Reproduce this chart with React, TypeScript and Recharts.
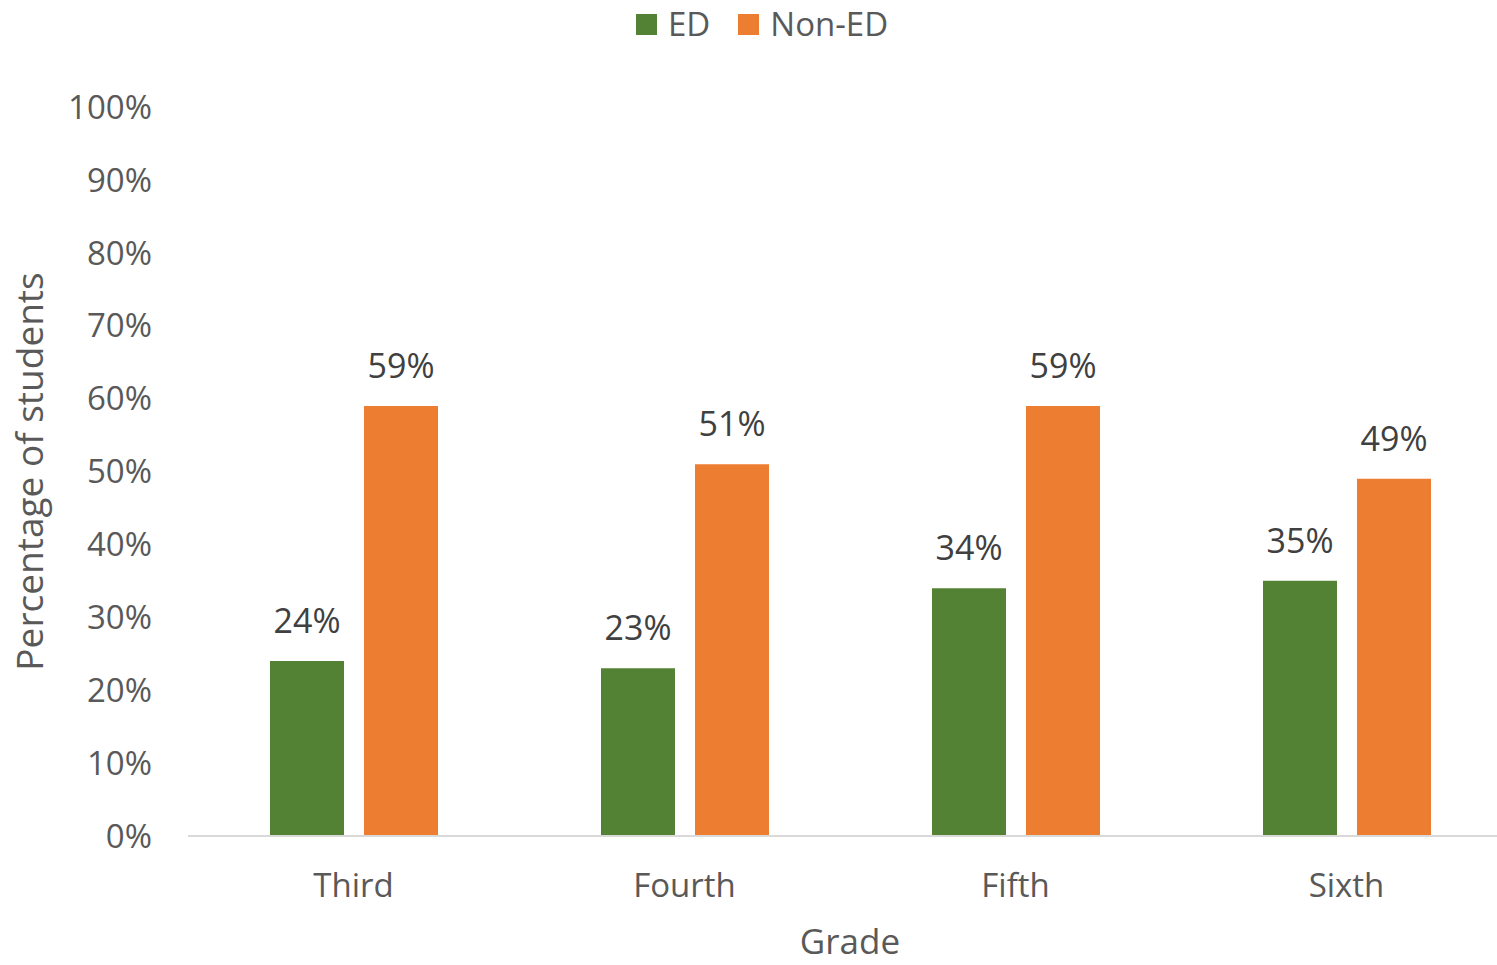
import { BarChart, Bar, XAxis, YAxis, LabelList } from 'recharts'

const grades = ['Third', 'Fourth', 'Fifth', 'Sixth']
const edValues = [24, 23, 34, 35]
const nonEdValues = [59, 51, 59, 49]
const yTicks = [0, 10, 20, 30, 40, 50, 60, 70, 80, 90, 100]

const FONT = '"Open Sans", "Noto Sans", sans-serif'
const GREEN = '#548235'
const ORANGE = '#ED7D31'
const TEXT = '#595959'

const data = grades.map((grade, i) => ({
  grade,
  ed: edValues[i],
  nonEd: nonEdValues[i],
}))

const legendItems = [
  { name: 'ED', color: GREEN },
  { name: 'Non-ED', color: ORANGE },
]

// legend drawn in html so it doesn't eat into the plot area
function ChartLegend() {
  return (
    <div
      style={{
        position: 'absolute',
        top: 0,
        left: 636,
        height: 48,
        display: 'flex',
        alignItems: 'center',
        gap: 28,
        fontFamily: FONT,
        fontSize: 33,
        color: TEXT,
        lineHeight: '48px',
      }}
    >
      {legendItems.map((item) => (
        <div key={item.name} style={{ display: 'flex', alignItems: 'center', gap: 11 }}>
          <div style={{ width: 21, height: 21, backgroundColor: item.color }} />
          <span>{item.name}</span>
        </div>
      ))}
    </div>
  )
}

export default function App() {
  return (
    <div style={{ position: 'absolute', left: 0, top: 0, width: 1497, height: 965, overflow: 'hidden', background: '#fff' }}>
      <BarChart
        width={1512}
        height={965}
        data={data}
        margin={{ top: 107, right: 0, bottom: 0, left: 0 }}
        barGap={20}
      >
        <XAxis
          dataKey="grade"
          height={129}
          axisLine={{ stroke: '#d9d9d9', strokeWidth: 2 }}
          tickLine={false}
          tickMargin={32}
          tick={{ fill: TEXT, fontSize: 33, fontFamily: FONT }}
          label={{ value: 'Grade', position: 'insideBottom', offset: 11, fill: TEXT, fontSize: 35, fontFamily: FONT }}
        />
        <YAxis
          width={188}
          domain={[0, 100]}
          ticks={yTicks}
          interval={0}
          tickFormatter={(v) => `${v}%`}
          axisLine={false}
          tickLine={false}
          tickMargin={30}
          tick={{ fill: TEXT, fontSize: 33, fontFamily: FONT }}
          label={{
            value: 'Percentage of students',
            angle: -90,
            position: 'insideLeft',
            offset: 30,
            fill: TEXT,
            fontSize: 37,
            fontFamily: FONT,
            style: { textAnchor: 'middle' },
          }}
        />
        <Bar dataKey="ed" name="ED" fill={GREEN} barSize={74} isAnimationActive={false}>
          <LabelList dataKey="ed" position="top" offset={28} formatter={(v: number) => `${v}%`} fill="#404040" fontSize={34} fontFamily={FONT} />
        </Bar>
        <Bar dataKey="nonEd" name="Non-ED" fill={ORANGE} barSize={74} isAnimationActive={false}>
          <LabelList dataKey="nonEd" position="top" offset={28} formatter={(v: number) => `${v}%`} fill="#404040" fontSize={34} fontFamily={FONT} />
        </Bar>
      </BarChart>
      <ChartLegend />
    </div>
  )
}
